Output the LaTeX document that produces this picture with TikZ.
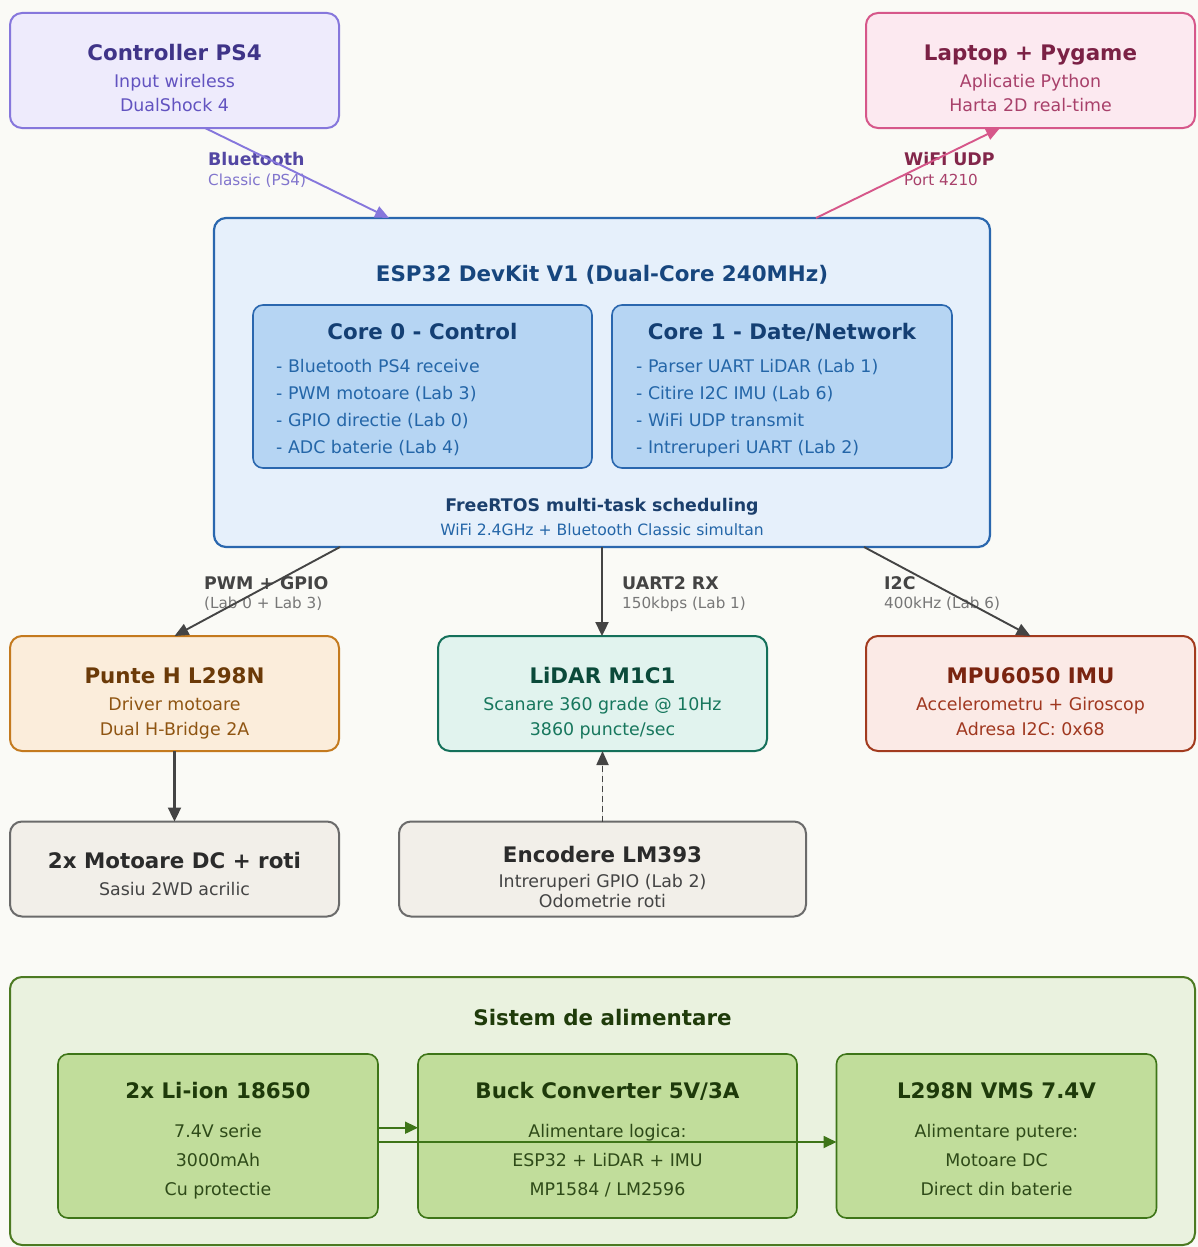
\documentclass[tikz,border=0pt]{standalone}
\usepackage{fontspec}
\setmainfont{DejaVu Sans}
\usetikzlibrary{arrows.meta}
\newcommand\rkTitle{\fontsize{21.4}{25}\selectfont\bfseries}
\newcommand\rkSub{\fontsize{17.4}{21}\selectfont}
\newcommand\rkLab{\fontsize{17.4}{21}\selectfont\bfseries}
\newcommand\rkLabSub{\fontsize{15.2}{18}\selectfont}
\newcommand\rkSmall{\fontsize{15.6}{18}\selectfont}
\definecolor{bgc}{HTML}{FAFAF6}
\definecolor{psF}{HTML}{EEEBFC}\definecolor{psD}{HTML}{8677DC}\definecolor{psT}{HTML}{3F3488}\definecolor{psS}{HTML}{6253C0}
\definecolor{lpF}{HTML}{FCE9F0}\definecolor{lpD}{HTML}{D6578A}\definecolor{lpT}{HTML}{7B2145}\definecolor{lpS}{HTML}{A8406A}
\definecolor{esF}{HTML}{E6F0FB}\definecolor{esD}{HTML}{2A67AE}\definecolor{esT}{HTML}{17467E}
\definecolor{coF}{HTML}{B6D5F3}\definecolor{coT}{HTML}{143F73}\definecolor{coS}{HTML}{2466A8}\definecolor{frT}{HTML}{1B3F6C}
\definecolor{phF}{HTML}{FBEDDB}\definecolor{phD}{HTML}{C47A1E}\definecolor{phT}{HTML}{6B3A08}\definecolor{phS}{HTML}{8F5512}
\definecolor{liF}{HTML}{E1F3EE}\definecolor{liD}{HTML}{14705A}\definecolor{liT}{HTML}{0B4A3A}\definecolor{liS}{HTML}{17775D}
\definecolor{muF}{HTML}{FBEAE6}\definecolor{muD}{HTML}{A23B1F}\definecolor{muT}{HTML}{7A2410}\definecolor{muS}{HTML}{A03820}
\definecolor{grF}{HTML}{F2EFE9}\definecolor{grD}{HTML}{6B6B6B}\definecolor{grT}{HTML}{2B2B2B}\definecolor{grS}{HTML}{444444}
\definecolor{pwF}{HTML}{EAF2DF}\definecolor{pwD}{HTML}{4C7A22}\definecolor{pwT}{HTML}{1F3B0A}
\definecolor{inF}{HTML}{C1DD9B}\definecolor{inD}{HTML}{3E7518}\definecolor{inT}{HTML}{1E3A0A}\definecolor{inS}{HTML}{2E4A18}
\definecolor{edG}{HTML}{444444}\definecolor{edS}{HTML}{777777}
\begin{document}
\begin{tikzpicture}[x=1pt,y=-1pt,
  box/.style={draw, rounded corners=12pt, line width=2pt, inner sep=0pt, outer sep=0pt},
  ibox/.style={draw, rounded corners=10pt, line width=1.6pt, inner sep=0pt, outer sep=0pt},
  txt/.style={anchor=base, inner sep=0pt},
  ltxt/.style={anchor=base west, inner sep=0pt},
  arr/.style={-{Triangle[length=14pt,width=12pt]}, line width=1.9pt},
  varr/.style={-{Triangle[length=14pt,width=13pt]}, line width=2.3pt},
  garr/.style={-{Triangle[length=13pt,width=12pt]}, line width=1.8pt, draw=inD}]
\useasboundingbox (0,0) rectangle (1198,1247);
\fill[bgc] (0,0) rectangle (1198,1247);

% ---- top boxes
\node[box, fill=psF, draw=psD, minimum width=329pt, minimum height=115pt] (ps4) at (174.5,70.5) {};
\node[txt, text=psT, font=\rkTitle] (ps4t) at (174.5,60) {Controller PS4};
\node[txt, text=psS, font=\rkSub] (ps4a) at (174.5,87) {Input wireless};
\node[txt, text=psS, font=\rkSub] (ps4b) at (174.5,111) {DualShock 4};

\node[box, fill=lpF, draw=lpD, minimum width=329pt, minimum height=115pt] (lap) at (1030.5,70.5) {};
\node[txt, text=lpT, font=\rkTitle] (lapt) at (1030.5,60) {Laptop + Pygame};
\node[txt, text=lpS, font=\rkSub] (lapa) at (1030.5,87) {Aplicatie Python};
\node[txt, text=lpS, font=\rkSub] (lapb) at (1030.5,111) {Harta 2D real-time};

% ---- ESP32
\node[box, fill=esF, draw=esD, line width=2.2pt, minimum width=776pt, minimum height=329pt] (esp) at (602,382.5) {};
\node[txt, text=esT, font=\rkTitle] (espt) at (602,281) {ESP32 DevKit V1 (Dual-Core 240MHz)};

\node[ibox, fill=coF, draw=esD, minimum width=339pt, minimum height=163pt] (c0) at (422.5,386.5) {};
\node[txt, text=coT, font=\rkTitle] (c0t) at (422.5,339) {Core 0 - Control};
\node[ltxt, text=coS, font=\rkSub] (c0a) at (276,372) {- Bluetooth PS4 receive};
\node[ltxt, text=coS, font=\rkSub] (c0b) at (276,399) {- PWM motoare (Lab 3)};
\node[ltxt, text=coS, font=\rkSub] (c0c) at (276,426) {- GPIO directie (Lab 0)};
\node[ltxt, text=coS, font=\rkSub] (c0d) at (276,453) {- ADC baterie (Lab 4)};

\node[ibox, fill=coF, draw=esD, minimum width=340pt, minimum height=163pt] (c1) at (782,386.5) {};
\node[txt, text=coT, font=\rkTitle] (c1t) at (782,339) {Core 1 - Date/Network};
\node[ltxt, text=coS, font=\rkSub] (c1a) at (636,372) {- Parser UART LiDAR (Lab 1)};
\node[ltxt, text=coS, font=\rkSub] (c1b) at (636,399) {- Citire I2C IMU (Lab 6)};
\node[ltxt, text=coS, font=\rkSub] (c1c) at (636,426) {- WiFi UDP transmit};
\node[ltxt, text=coS, font=\rkSub] (c1d) at (636,453) {- Intreruperi UART (Lab 2)};

\node[txt, text=frT, font=\rkLab] (fr) at (602,511) {FreeRTOS multi-task scheduling};
\node[txt, text=coS, font=\rkSmall] (frb) at (602,535) {WiFi 2.4GHz + Bluetooth Classic simultan};

% ---- row 2
\node[box, fill=phF, draw=phD, minimum width=329pt, minimum height=115pt] (ph) at (174.5,693.5) {};
\node[txt, text=phT, font=\rkTitle] (pht) at (174.5,683) {Punte H L298N};
\node[txt, text=phS, font=\rkSub] (pha) at (174.5,710) {Driver motoare};
\node[txt, text=phS, font=\rkSub] (phb) at (174.5,735) {Dual H-Bridge 2A};

\node[box, fill=liF, draw=liD, minimum width=329pt, minimum height=115pt] (lid) at (602.5,693.5) {};
\node[txt, text=liT, font=\rkTitle] (lidt) at (602.5,683) {LiDAR M1C1};
\node[txt, text=liS, font=\rkSub] (lida) at (602.5,710) {Scanare 360 grade @ 10Hz};
\node[txt, text=liS, font=\rkSub] (lidb) at (602.5,735) {3860 puncte/sec};

\node[box, fill=muF, draw=muD, minimum width=329pt, minimum height=115pt] (mpu) at (1030.5,693.5) {};
\node[txt, text=muT, font=\rkTitle] (mput) at (1030.5,683) {MPU6050 IMU};
\node[txt, text=muS, font=\rkSub] (mpua) at (1030.5,710) {Accelerometru + Giroscop};
\node[txt, text=muS, font=\rkSub] (mpub) at (1030.5,735) {Adresa I2C: 0x68};

% ---- row 3
\node[box, fill=grF, draw=grD, minimum width=329pt, minimum height=95pt] (mot) at (174.5,869) {};
\node[txt, text=grT, font=\rkTitle] (mott) at (174.5,868) {2x Motoare DC + roti};
\node[txt, text=grS, font=\rkSub] (mota) at (174.5,895) {Sasiu 2WD acrilic};

\node[box, fill=grF, draw=grD, minimum width=407pt, minimum height=95pt] (enc) at (602.5,869) {};
\node[txt, text=grT, font=\rkTitle] (enct) at (602.5,862) {Encodere LM393};
\node[txt, text=grS, font=\rkSub] (enca) at (602.5,887) {Intreruperi GPIO (Lab 2)};
\node[txt, text=grS, font=\rkSub] (encb) at (602.5,907) {Odometrie roti};

% ---- power system
\node[box, fill=pwF, draw=pwD, minimum width=1185pt, minimum height=268pt] (pw) at (602.5,1111) {};
\node[txt, text=pwT, font=\rkTitle] (pwt) at (602.5,1025) {Sistem de alimentare};

\node[ibox, fill=inF, draw=inD, minimum width=320pt, minimum height=164pt] (bat) at (218,1136) {};
\node[txt, text=inT, font=\rkTitle] (batt) at (218,1098) {2x Li-ion 18650};
\node[txt, text=inS, font=\rkSub] (bata) at (218,1137) {7.4V serie};
\node[txt, text=inS, font=\rkSub] (batb) at (218,1166) {3000mAh};
\node[txt, text=inS, font=\rkSub] (batc) at (218,1195) {Cu protectie};

\node[ibox, fill=inF, draw=inD, minimum width=379pt, minimum height=164pt] (buck) at (607.5,1136) {};
\node[txt, text=inT, font=\rkTitle] (buckt) at (607.5,1098) {Buck Converter 5V/3A};
\node[txt, text=inS, font=\rkSub] (bucka) at (607.5,1137) {Alimentare logica:};
\node[txt, text=inS, font=\rkSub] (buckb) at (607.5,1166) {ESP32 + LiDAR + IMU};
\node[txt, text=inS, font=\rkSub] (buckc) at (607.5,1195) {MP1584 / LM2596};

\node[ibox, fill=inF, draw=inD, minimum width=320pt, minimum height=164pt] (vms) at (996.5,1136) {};
\node[txt, text=inT, font=\rkTitle] (vmst) at (996.5,1098) {L298N VMS 7.4V};
\node[txt, text=inS, font=\rkSub] (vmsa) at (996.5,1137) {Alimentare putere:};
\node[txt, text=inS, font=\rkSub] (vmsb) at (996.5,1166) {Motoare DC};
\node[txt, text=inS, font=\rkSub] (vmsc) at (996.5,1195) {Direct din baterie};

% ---- edge labels
\node[ltxt, text=psS!85!black, font=\rkLab] (l1) at (208,165.7) {Bluetooth};
\node[ltxt, text=psS!80!white, font=\rkLabSub] (l1b) at (208,185) {Classic (PS4)};
\node[ltxt, text=lpT!85!lpS, font=\rkLab] (l2) at (904,165.7) {WiFi UDP};
\node[ltxt, text=lpS, font=\rkLabSub] (l2b) at (904,185) {Port 4210};
\node[ltxt, text=edG, font=\rkLab] (l3) at (204,589) {PWM + GPIO};
\node[ltxt, text=edS, font=\rkLabSub] (l3b) at (204,608) {(Lab 0 + Lab 3)};
\node[ltxt, text=edG, font=\rkLab] (l4) at (622,589) {UART2 RX};
\node[ltxt, text=edS, font=\rkLabSub] (l4b) at (622,608) {150kbps (Lab 1)};
\node[ltxt, text=edG, font=\rkLab] (l5) at (884,589) {I2C};
\node[ltxt, text=edS, font=\rkLabSub] (l5b) at (884,608) {400kHz (Lab 6)};

% ---- connectors
\draw[arr, draw=psD, fill=psD] ([xshift=30.5pt]ps4.south) -- ([xshift=-213pt]esp.north);
\draw[arr, draw=lpD, fill=lpD] ([xshift=214pt]esp.north) -- ([xshift=-30.5pt]lap.south);
\draw[arr, draw=edG, fill=edG] ([xshift=-262pt]esp.south) -- (ph.north);
\draw[varr, draw=edG, fill=edG] (esp.south) -- (esp.south |- lid.north);
\draw[arr, draw=edG, fill=edG] ([xshift=262pt]esp.south) -- (mpu.north);
\draw[varr, draw=edG, fill=edG] (ph.south) -- (mot.north);
\draw[arr, draw=edG, fill=edG, line width=1.8pt, dash pattern=on 6pt off 4pt] (enc.north) -- (lid.south);
\draw[garr, fill=inD] ([yshift=8.3pt]bat.east) -- ([yshift=8.3pt]buck.west);
\draw[garr, fill=inD] ([yshift=-6pt]bat.east) -- ([yshift=-6pt]vms.west);
\end{tikzpicture}
\end{document}
